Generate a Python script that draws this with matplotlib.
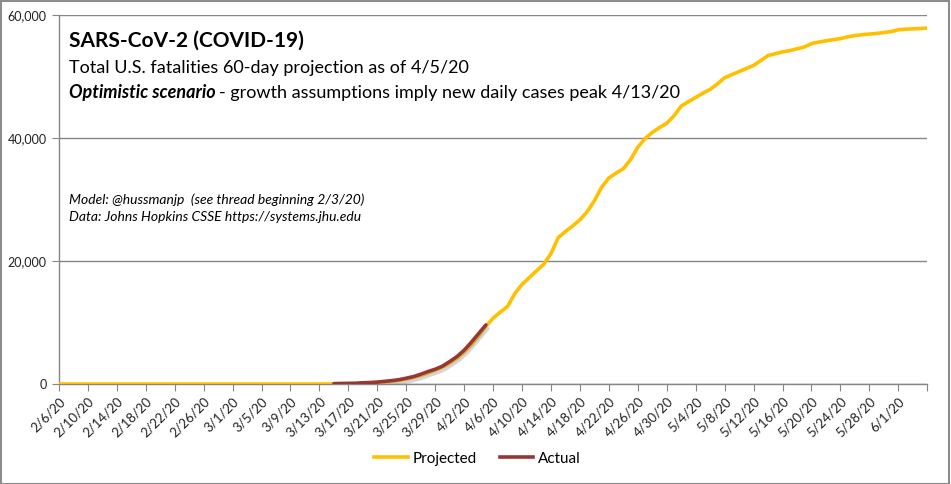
import pandas as pd
import matplotlib.pyplot as plt
import matplotlib.patheffects as pe
from matplotlib.patches import Rectangle
from matplotlib.lines import Line2D

plt.rcParams['font.family'] = ['Lato', 'DejaVu Sans']

# daily categories, 2/6/20 .. 6/5/20
dates = pd.date_range('2020-02-06', '2020-06-05', freq='D')
date_labels = [f"{d.month}/{d.day}/20" for d in dates]

# projected cumulative U.S. fatalities
projected = [
    0, 0, 0, 0, 0, 0, 0, 0, 0, 0,
    0, 0, 0, 0, 0, 0, 0, 0, 0, 0,
    0, 0, 0, 0, 0, 0, 0, 0, 0, 0,
    0, 0, 0, 0, 0, 0, 0, 0, 0, 0,
    50, 80, 120, 170, 230, 320, 440, 590, 800, 1050,
    1400, 1800, 2250, 2750, 3400, 4200, 5200, 6400, 7800, 9400,
    10700, 11700, 12600, 14700, 16200, 17300, 18400, 19500, 21200, 23800,
    24800, 25700, 26700, 28000, 29800, 32000, 33500, 34300, 35000, 36500,
    38500, 39900, 40900, 41700, 42400, 43600, 45200, 45900, 46600, 47300,
    47900, 48800, 49800, 50300, 50800, 51300, 51800, 52600, 53400, 53700,
    54000, 54200, 54500, 54800, 55350, 55600, 55800, 56000, 56150, 56450,
    56650, 56800, 56900, 57000, 57150, 57300, 57600, 57700, 57750, 57800,
    57880,
]

# actual reported fatalities, 3/15/20 .. 4/5/20
actual_start = '2020-03-15'
actual = [
    63, 85, 108, 118, 200, 244, 307, 427, 552, 706,
    942, 1209, 1581, 2026, 2400, 2900, 3650, 4450, 5500, 6800,
    8200, 9600,
]

x_all = list(range(len(dates)))
a0 = list(dates).index(pd.Timestamp(actual_start))
x_act = list(range(a0, a0 + len(actual)))

fig = plt.figure(figsize=(9.51, 4.84), dpi=100)
ax = fig.add_axes([0.062, 0.2066, 0.913, 0.7624])

gold = '#FFC000'
red = '#953735'
grid_c = '#868686'

ax.plot(x_all, projected, color=gold, lw=2.6, solid_capstyle='round', zorder=3)
ax.plot(x_act, actual, color=red, lw=2.6, solid_capstyle='round', zorder=4,
        path_effects=[pe.SimpleLineShadow(offset=(1.5, -2.5), shadow_color='#888888', alpha=0.35),
                      pe.Normal()])

ax.set_xlim(0, len(dates) - 1)
ax.set_ylim(0, 60000)
ax.set_yticks([0, 20000, 40000, 60000])
ax.set_yticklabels([f"{v:,}" for v in [0, 20000, 40000, 60000]], fontsize=9, color='#222222')
ax.yaxis.grid(True, color=grid_c, lw=1)
ax.set_axisbelow(True)

xt = list(range(0, len(dates), 4))
ax.set_xticks(xt)
ax.set_xticklabels([date_labels[i] if i < len(dates) - 1 else '' for i in xt],
                   rotation=45, ha='right', rotation_mode='anchor', fontsize=9.5, color='#222222')
ax.tick_params(axis='x', length=5, color=grid_c, pad=3)
ax.tick_params(axis='y', length=5, color=grid_c, pad=4)

for s in ['top', 'right']:
    ax.spines[s].set_visible(False)
for s in ['left', 'bottom']:
    ax.spines[s].set_color(grid_c)
    ax.spines[s].set_linewidth(1)

# title block
fig.text(0.0725, 0.917, 'SARS-CoV-2 (COVID-19)', fontsize=15, fontweight='bold', va='center')
fig.text(0.0725, 0.860, 'Total U.S. fatalities 60-day projection as of 4/5/20', fontsize=13, va='center')
t3 = fig.text(0.0725, 0.808, 'Optimistic scenario', fontsize=13, style='italic', fontweight='bold', va='center')
renderer = fig.canvas.get_renderer()
bb = t3.get_window_extent(renderer).transformed(fig.transFigure.inverted())
fig.text(bb.x1 + 0.004, 0.808, '- growth assumptions imply new daily cases peak 4/13/20', fontsize=13, va='center')

fig.text(0.0725, 0.587, 'Model: @hussmanjp  (see thread beginning 2/3/20)', fontsize=10, style='italic', va='center')
fig.text(0.0725, 0.552, 'Data: Johns Hopkins CSSE https://systems.jhu.edu', fontsize=10, style='italic', va='center')

handles = [Line2D([], [], color=gold, lw=2.6), Line2D([], [], color=red, lw=2.6)]
ax.legend(handles, ['Projected', 'Actual'], loc='center', bbox_to_anchor=(0.502, 0.052),
          bbox_transform=fig.transFigure, ncol=2, frameon=False, fontsize=11,
          handlelength=2.2, handletextpad=0.3, columnspacing=1.5)

fig.patches.append(Rectangle((0.001, 0.001), 0.997, 0.996, transform=fig.transFigure,
                             fill=False, edgecolor='#8c8c8c', lw=1.5))

fig.savefig('out.png', dpi=100)
